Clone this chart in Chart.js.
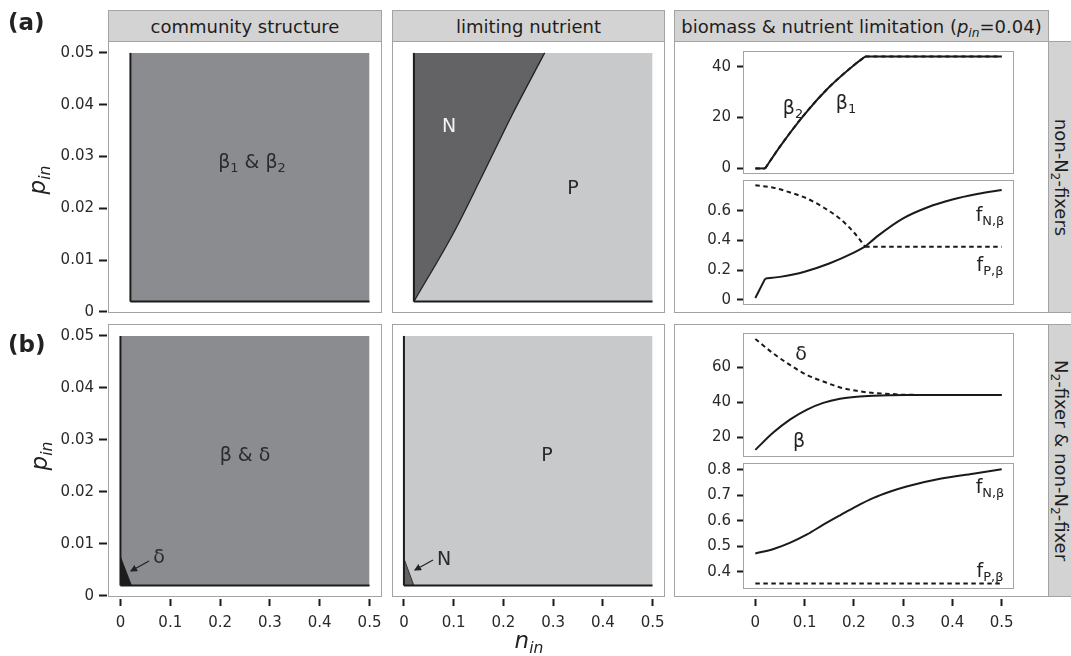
<!DOCTYPE html>
<html><head><meta charset="utf-8">
<script src="https://cdn.jsdelivr.net/npm/chart.js@4.4.0/dist/chart.umd.min.js"></script>
<style>
body{margin:0;background:#fff;}
#fig{position:relative;width:1071px;height:656px;overflow:hidden;font-family:"DejaVu Sans",sans-serif;color:#222;}
.box{position:absolute;box-sizing:border-box;border:1px solid #a3a3a3;background:#fff;}
.strip{position:absolute;box-sizing:border-box;border:1px solid #a3a3a3;background:#d3d3d3;display:flex;align-items:center;justify-content:center;font-size:18px;color:#1e1e1e;white-space:nowrap;}
.rot{transform:rotate(90deg);white-space:nowrap;}
canvas{position:absolute;}
.t{position:absolute;transform:translate(-50%,-50%);white-space:nowrap;line-height:1;}
sub{font-size:0.68em;vertical-align:-0.35em;line-height:0;}
.tag{position:absolute;font-weight:bold;font-size:23px;line-height:1;}
.ytitle{position:absolute;transform:translate(-50%,-50%) rotate(-90deg);font-size:23px;font-style:italic;line-height:1;white-space:nowrap;}
.xtitle{position:absolute;transform:translate(-50%,-50%);font-size:23px;font-style:italic;line-height:1;white-space:nowrap;}
</style></head>
<body><div id="fig"></div>
<script>
// ---------------- data ----------------
const nTicks = [0, 0.1, 0.2, 0.3, 0.4, 0.5];
const nTickLabels = ['0', '0.1', '0.2', '0.3', '0.4', '0.5'];
const pTicks = [0, 0.01, 0.02, 0.03, 0.04, 0.05];
const pTickLabels = ['0', '0.01', '0.02', '0.03', '0.04', '0.05'];
const biomassTicksA = [0, 20, 40];
const biomassTickLabelsA = ['0', '20', '40'];
const fracTicksA = [0, 0.2, 0.4, 0.6];
const fracTickLabelsA = ['0', '0.2', '0.4', '0.6'];
const biomassTicksB = [20, 40, 60];
const biomassTickLabelsB = ['20', '40', '60'];
const fracTicksB = [0.4, 0.5, 0.6, 0.7, 0.8];
const fracTickLabelsB = ['0.4', '0.5', '0.6', '0.7', '0.8'];

// parameter-space extents
const nRangeA = [0.02, 0.5];
const nRangeB = [0, 0.5];
const pRange = [0.002, 0.05];
// N / P limitation boundary (non-N2-fixers)
const nLimBoundaryN = [0.02, 0.1, 0.155, 0.22, 0.283];
const nLimBoundaryP = [0.002, 0.0153, 0.0258, 0.0385, 0.05];
// delta-only corner (N2-fixer community)
const deltaCornerN = [0, 0.022];
const deltaCornerP = [0.0075, 0.002];
// N-limited corner (N2-fixer community)
const nCornerN = [0, 0.02];
const nCornerP = [0.0072, 0.002];

// biomass, non-N2-fixers (p_in = 0.04)
const betaA_n = [0, 0.02, 0.05, 0.1, 0.15, 0.2, 0.223, 0.5];
const beta1A = [0, 0, 8.6, 21.3, 32.0, 40.6, 44, 44];
const beta2A = [0, 0, 8.6, 21.3, 32.0, 40.6, 44, 44];
// nutrient limitation, non-N2-fixers
const fNA_n = [0, 0.02, 0.05, 0.1, 0.15, 0.2, 0.223, 0.25, 0.3, 0.35, 0.4, 0.45, 0.5];
const fNA = [0.012, 0.143, 0.155, 0.19, 0.245, 0.318, 0.359, 0.435, 0.55, 0.625, 0.677, 0.714, 0.742];
const fPA_n = [0, 0.037, 0.071, 0.105, 0.138, 0.172, 0.199, 0.223, 0.5];
const fPA = [0.773, 0.757, 0.724, 0.684, 0.624, 0.547, 0.459, 0.359, 0.359];
// biomass, N2-fixer & non-N2-fixer
const bioB_n = [0, 0.037, 0.071, 0.105, 0.138, 0.172, 0.206, 0.24, 0.274, 0.307, 0.5];
const deltaB = [76.1, 67.7, 61.1, 55.5, 51.8, 48.4, 46.5, 45.2, 44.7, 44.2, 44.1];
const betaB = [12.8, 22.8, 30.2, 35.8, 39.6, 41.9, 43.1, 43.7, 44.0, 44.1, 44.1];
// nutrient limitation, N2-fixer & non-N2-fixer
const fNB_n = [0, 0.037, 0.071, 0.105, 0.138, 0.172, 0.206, 0.24, 0.274, 0.307, 0.375, 0.442, 0.5];
const fNB = [0.472, 0.49, 0.515, 0.547, 0.585, 0.622, 0.658, 0.69, 0.715, 0.735, 0.765, 0.785, 0.802];
const fPB_n = [0, 0.5];
const fPB = [0.355, 0.355];
// kinks where the curves switch regime
const kinksA = [0.02, 0.223];

// ---------------- styling ----------------
const MID = '#8b8c90', LIGHT = '#c8c9cb', DARK = '#636366', BLACK = '#1c1c1c', INK = '#1a1a1a';
const fig = document.getElementById('fig');
const M = 14;
const zip = (xs, ys) => xs.map((x, i) => ({x, y: ys[i]}));

function el(tag, cls, css, html) {
  const e = document.createElement(tag);
  if (cls) e.className = cls;
  Object.assign(e.style, css || {});
  if (html !== undefined) e.innerHTML = html;
  fig.appendChild(e);
  return e;
}
function box(L, T, R, B, cls) {
  return el('div', cls || 'box', {left: L + 'px', top: T + 'px', width: (R - L) + 'px', height: (B - T) + 'px'});
}

function axis(id, a) {
  const show = !!a.show;
  return {
    type: 'linear', min: a.min, max: a.max, display: show,
    position: id === 'x' ? 'bottom' : 'left',
    grid: {display: true, drawOnChartArea: false, drawTicks: true, tickLength: a.tl || 8, tickWidth: 2, tickColor: INK},
    border: {display: !!a.bw, width: a.bw || 0, color: 'rgba(0,0,0,0)'},
    ticks: {font: {family: 'DejaVu Sans', size: 15}, color: '#2a2a2a', padding: a.pad || 5,
      autoSkip: false, maxRotation: 0, minRotation: 0,
      callback: (v, i) => (a.labels ? a.labels[i] : '')},
    afterBuildTicks: s => { s.ticks = (a.ticks || []).map(v => ({value: v})); },
    afterFit: s => { if (!show) return; if (id === 'x') s.height = a.size; else s.width = a.size; }
  };
}

function makeChart(area, cfg) {
  const [L, T, R, B] = area;
  const wy = cfg.y.show ? cfg.y.size : 0;
  const hx = cfg.x.show ? cfg.x.size : 0;
  const W = (R - L) + wy + 2 * M, H = (B - T) + hx + 2 * M;
  const c = document.createElement('canvas');
  c.width = W; c.height = H;
  Object.assign(c.style, {left: (L - wy - M) + 'px', top: (T - M) + 'px', width: W + 'px', height: H + 'px'});
  fig.appendChild(c);
  return new Chart(c, {
    type: 'line',
    data: {datasets: cfg.datasets},
    options: {
      responsive: false, animation: false, devicePixelRatio: 1,
      layout: {padding: M},
      plugins: {legend: {display: false}, tooltip: {enabled: false}},
      elements: {point: {radius: 0, hoverRadius: 0}, line: {tension: 0, borderCapStyle: 'butt'}},
      scales: {x: axis('x', cfg.x), y: axis('y', cfg.y)}
    }
  });
}

const edge = (pts, w) => ({data: pts, borderColor: BLACK, borderWidth: w || 2, fill: false, order: 1});
const rect = (nr, color) => ({data: [{x: nr[0], y: pRange[1]}, {x: nr[1], y: pRange[1]}], fill: {value: pRange[0]},
  backgroundColor: color, borderWidth: 0, borderColor: 'rgba(0,0,0,0)', order: 9});
const lineDs = (pts, dash) => ({data: pts, borderColor: INK, borderWidth: 2, fill: false,
  borderDash: dash ? [4.5, 3.5] : [], cubicInterpolationMode: 'monotone', order: dash ? 2 : 1});
// split a curve at regime-change points so the kinks stay sharp
function curve(xs, ys, dash, cuts) {
  const pts = zip(xs, ys);
  if (!cuts || !cuts.length) return [lineDs(pts, dash)];
  const out = [];
  let cur = [];
  pts.forEach(p => {
    cur.push(p);
    if (cuts.some(c => Math.abs(c - p.x) < 1e-9) && cur.length > 1) { out.push(cur); cur = [p]; }
  });
  if (cur.length > 1) out.push(cur);
  return out.map(seg => lineDs(seg, dash));
}

// ---------------- layout ----------------
const COL1 = [108, 382], COL2 = [392, 665], COL3 = [674, 1049];
const ROWA = [41, 313], ROWB = [324, 597];
const STRIP = [10, 41];

box(COL1[0], ROWA[0], COL1[1], ROWA[1]);
box(COL2[0], ROWA[0], COL2[1], ROWA[1]);
box(COL3[0], ROWA[0], COL3[1], ROWA[1]);
box(COL1[0], ROWB[0], COL1[1], ROWB[1]);
box(COL2[0], ROWB[0], COL2[1], ROWB[1]);
box(COL3[0], ROWB[0], COL3[1], ROWB[1]);
const SUB = {a1: [743, 51, 1014, 174], a2: [743, 180, 1014, 305], b1: [743, 333, 1014, 457], b2: [743, 463, 1014, 589]};
Object.values(SUB).forEach(s => box(s[0], s[1], s[2], s[3]));

box(COL1[0], STRIP[0], COL1[1], STRIP[1] + 1, 'strip').innerHTML = '<span>community structure</span>';
box(COL2[0], STRIP[0], COL2[1], STRIP[1] + 1, 'strip').innerHTML = '<span>limiting nutrient</span>';
box(COL3[0], STRIP[0], COL3[1], STRIP[1] + 1, 'strip').innerHTML = '<span>biomass &amp; nutrient limitation (<i>p</i><sub><i>in</i></sub>=0.04)</span>';
box(COL3[1] - 1, ROWA[0], 1075, ROWA[1], 'strip').innerHTML = '<div class="rot">non-N<sub>2</sub>-fixers</div>';
box(COL3[1] - 1, ROWB[0], 1075, ROWB[1], 'strip').innerHTML = '<div class="rot">N<sub>2</sub>-fixer &amp; non-N<sub>2</sub>-fixer</div>';

// ---------------- charts ----------------
const pAxisShown = {show: true, min: -0.0002, max: 0.0523, ticks: pTicks, labels: pTickLabels, size: 52, tl: 9, bw: 2.6, pad: 5};
const pAxisHidden = {show: false, min: -0.0002, max: 0.0523};
const nAxisShown = (min) => ({show: true, min: min, max: 0.525, ticks: nTicks, labels: nTickLabels, size: 40, tl: 9, bw: 4, pad: 8});
const nAxisHidden = (min) => ({show: false, min: min, max: 0.525});

makeChart([COL1[0], ROWA[0], COL1[1], ROWA[1]], {
  x: nAxisHidden(-0.025), y: pAxisShown,
  datasets: [
    edge([{x: nRangeA[0], y: pRange[0]}, {x: nRangeA[0], y: pRange[1]}]),
    edge([{x: nRangeA[0], y: pRange[0]}, {x: nRangeA[1], y: pRange[0]}]),
    rect(nRangeA, MID)
  ]
});
makeChart([COL2[0], ROWA[0], COL2[1], ROWA[1]], {
  x: nAxisHidden(-0.024), y: pAxisHidden,
  datasets: [
    edge([{x: nRangeA[0], y: pRange[0]}, {x: nRangeA[0], y: pRange[1]}]),
    edge([{x: nRangeA[0], y: pRange[0]}, {x: nRangeA[1], y: pRange[0]}]),
    {data: zip(nLimBoundaryN, nLimBoundaryP), fill: {value: pRange[1]}, backgroundColor: DARK,
      borderColor: '#222', borderWidth: 1.3, cubicInterpolationMode: 'monotone', order: 5},
    rect(nRangeA, LIGHT)
  ]
});
makeChart([COL1[0], ROWB[0], COL1[1], ROWB[1]], {
  x: nAxisShown(-0.025), y: pAxisShown,
  datasets: [
    edge([{x: nRangeB[0], y: pRange[0]}, {x: nRangeB[0], y: pRange[1]}]),
    edge([{x: nRangeB[0], y: pRange[0]}, {x: nRangeB[1], y: pRange[0]}]),
    {data: zip(deltaCornerN, deltaCornerP), fill: {value: pRange[0]}, backgroundColor: BLACK,
      borderColor: BLACK, borderWidth: 1, order: 5},
    rect(nRangeB, MID)
  ]
});
makeChart([COL2[0], ROWB[0], COL2[1], ROWB[1]], {
  x: nAxisShown(-0.024), y: pAxisHidden,
  datasets: [
    edge([{x: nRangeB[0], y: pRange[0]}, {x: nRangeB[0], y: pRange[1]}]),
    edge([{x: nRangeB[0], y: pRange[0]}, {x: nRangeB[1], y: pRange[0]}]),
    {data: zip(nCornerN, nCornerP), fill: {value: pRange[0]}, backgroundColor: DARK,
      borderColor: '#333', borderWidth: 1, order: 5},
    rect(nRangeB, LIGHT)
  ]
});

const yAx = (min, max, t, l) => ({show: true, min, max, ticks: t, labels: l, size: 40, tl: 6, pad: 6});
const xHidden3 = {show: false, min: -0.025, max: 0.525};
makeChart(SUB.a1, {
  x: xHidden3, y: yAx(-1.8, 45.8, biomassTicksA, biomassTickLabelsA),
  datasets: [...curve(betaA_n, beta1A, false, kinksA), ...curve(betaA_n, beta2A, true, kinksA)]
});
makeChart(SUB.a2, {
  x: xHidden3, y: yAx(-0.028, 0.802, fracTicksA, fracTickLabelsA),
  datasets: [...curve(fNA_n, fNA, false, kinksA), ...curve(fPA_n, fPA, true, kinksA)]
});
makeChart(SUB.b1, {
  x: xHidden3, y: yAx(9.3, 78.9, biomassTicksB, biomassTickLabelsB),
  datasets: [...curve(bioB_n, betaB, false), ...curve(bioB_n, deltaB, true)]
});
makeChart(SUB.b2, {
  x: {show: true, min: -0.025, max: 0.525, ticks: nTicks, labels: nTickLabels, size: 48, tl: 17, bw: 20, pad: 8},
  y: yAx(0.333, 0.823, fracTicksB, fracTickLabelsB),
  datasets: [...curve(fNB_n, fNB, false), ...curve(fPB_n, fPB, true)]
});

// ---------------- text annotations ----------------
const T = (x, y, html, size, color) => el('div', 't', {left: x + 'px', top: y + 'px', fontSize: (size || 19) + 'px', color: color || '#222'}, html);
T(252, 161, 'β<sub>1</sub> &amp; β<sub>2</sub>', 19, '#2a2a2a');
T(449, 125, 'N', 19, '#f2f2f2');
T(573, 187, 'P', 19, '#2a2a2a');
T(245, 454, 'β &amp; δ', 19, '#2a2a2a');
T(547, 454, 'P', 19, '#2a2a2a');
T(159, 556, 'δ', 19, '#2a2a2a');
T(444, 558, 'N', 19, '#2a2a2a');
T(793, 107, 'β<sub>2</sub>', 19);
T(846, 102, 'β<sub>1</sub>', 19);
T(990, 214, 'f<sub>N,β</sub>', 19);
T(990, 264, 'f<sub>P,β</sub>', 19);
T(801, 353, 'δ', 19);
T(799, 440, 'β', 19);
T(990, 486, 'f<sub>N,β</sub>', 19);
T(990, 570, 'f<sub>P,β</sub>', 19);

el('div', 'tag', {left: '8px', top: '11px'}, '(a)');
el('div', 'tag', {left: '8px', top: '333px'}, '(b)');
el('div', 'ytitle', {left: '37px', top: '180px'}, 'p<sub>in</sub>');
el('div', 'ytitle', {left: '39px', top: '456px'}, 'p<sub>in</sub>');
el('div', 'xtitle', {left: '529px', top: '640px'}, 'n<sub>in</sub>');

const svgNS = 'http://www.w3.org/2000/svg';
const svg = document.createElementNS(svgNS, 'svg');
svg.setAttribute('width', 1071); svg.setAttribute('height', 656);
svg.style.position = 'absolute'; svg.style.left = '0'; svg.style.top = '0';
svg.innerHTML = '<defs><marker id="ah" markerWidth="6" markerHeight="6" refX="5" refY="3" orient="auto"><path d="M0,0 L6,3 L0,6 z" fill="#222"/></marker></defs>' +
  '<line x1="149" y1="561" x2="131" y2="571" stroke="#222" stroke-width="1.2" marker-end="url(#ah)"/>' +
  '<line x1="433" y1="560" x2="415" y2="570" stroke="#222" stroke-width="1.2" marker-end="url(#ah)"/>';
fig.appendChild(svg);
</script>
</body></html>
